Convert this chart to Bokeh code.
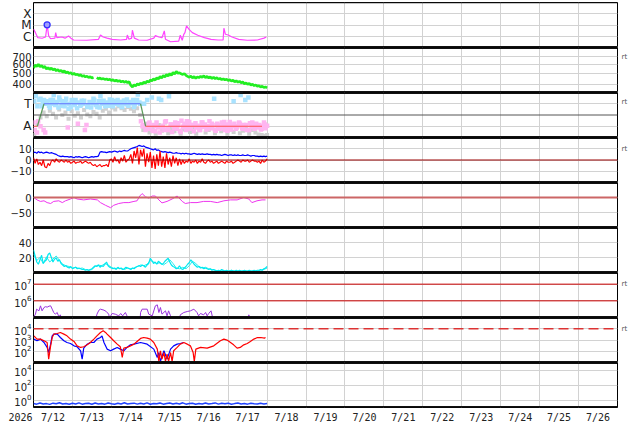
import numpy as np
from bokeh.plotting import figure
from bokeh.layouts import column
from bokeh.models import Range1d, FixedTicker, Span, LinearAxis, BasicTickFormatter
from bokeh.core.properties import value
from bokeh.embed import file_html
from bokeh.resources import INLINE

# ---------------- data ----------------
date_labels = ["7/12", "7/13", "7/14", "7/15", "7/16", "7/17", "7/18", "7/19",
               "7/20", "7/21", "7/22", "7/23", "7/24", "7/25", "7/26"]
year_label = "2026"

# X-ray flux (exponent of W/m2), times in days from 7/12 00:00
xray_t = [0.0, 0.05, 0.11, 0.22, 0.31, 0.35, 0.39, 0.44, 0.55, 0.57, 0.6, 0.73, 0.81, 0.9, 0.96,
          1.03, 1.37, 1.67, 1.72, 1.79, 1.89, 2.02, 2.24, 2.39, 2.41, 2.45, 2.52, 2.54, 2.59, 2.7,
          2.92, 3.09, 3.13, 3.22, 3.3, 3.36, 3.39, 3.52, 3.73, 3.77, 3.82, 3.86, 3.89, 3.93, 3.99,
          4.08, 4.22, 4.39, 4.56, 4.74, 4.87, 4.89, 4.93, 5.0, 5.1, 5.27, 5.49, 5.75, 5.92, 5.98]
xray_exp = [-5.33, -5.63, -6.06, -6.11, -6.0, -4.96, -5.91, -6.15, -6.1, -5.63, -6.06, -6.0, -6.1, -5.92, -6.1,
            -6.26, -6.28, -6.2, -5.83, -6.0, -6.1, -6.2, -6.26, -6.2, -5.83, -6.2, -6.1, -5.42, -6.1, -6.26,
            -6.28, -6.1, -5.88, -6.0, -6.06, -5.48, -6.2, -6.41, -6.35, -5.85, -6.28, -5.77, -5.63, -5.04, -5.33,
            -5.63, -5.85, -6.06, -6.2, -6.26, -6.26, -5.25, -5.77, -5.83, -6.0, -6.2, -6.28, -6.26, -6.1, -6.0]
flare_t = [0.35]
flare_flux = [1.1e-5]
xray_ticks = [1e-6, 1e-5, 1e-4]
xray_tick_labels = ["C", "M", "X"]

# Solar wind speed (km/s), hourly
speed = [555, 590, 575, 600, 570, 585, 560, 575, 545, 560, 540, 555, 535, 548, 525, 540, 520, 532, 512, 525, 505, 515, 498, 508,
         490, 500, 485, 492, 478, 486, 470, 478, 465, 472, 460, 466, 455, 462, np.nan, 458, 448, 455, 445, 450, 442, 447, 438, 444,
         432, 440, 428, 436, 425, 432, 420, 428, 418, 425, 415, 422, 392, 380, 398, 388, 405, 395, 412, 402, 420, 410, 428, 418,
         438, 428, 448, 436, 458, 446, 468, 455, 478, 465, 488, 472, 498, 480, 510, 492, 520, 500, 505, 495, 488, 498, 480, 470,
         462, 472, 455, 468, 452, 465, 458, 470, 462, 475, 458, 470, 455, 466, 450, 462, 448, 458, 445, 452, 440, 448, 438, 444,
         432, 440, 428, 436, 422, 430, 418, 426, 412, 420, 405, 413, 400, 408, 395, 402, 390, 396, 385, 390, 380, 385, 376, 381,
         374]
speed_ticks = [400, 500, 600, 700]

# IMF phi angle (deg): sector points
phi_t = [0.00, 0.03, 0.06, 0.09, 0.12, 0.15, 0.18, 0.21, 0.24, 0.27, 0.30, 0.33, 0.36, 0.40, 0.44, 0.48, 0.52, 0.56,
         0.60, 0.64, 0.68, 0.72, 0.76, 0.80, 0.84, 0.88, 0.92, 0.96, 1.00, 1.04, 1.08, 1.12, 1.16, 1.20, 1.24, 1.28,
         1.32, 1.36, 1.40, 1.44, 1.48, 1.52, 1.56, 1.60, 1.64, 1.68, 1.72, 1.76, 1.80, 1.84, 1.88, 1.92, 1.96, 2.00,
         2.04, 2.08, 2.12, 2.16, 2.20, 2.24, 2.28, 2.32, 2.36, 2.40, 2.44, 2.48, 2.52, 2.56, 2.60, 2.64, 2.68, 2.72,
         2.76, 2.80, 2.84, 2.88, 2.92, 2.96, 3.00, 3.04, 3.08, 3.12, 3.16, 3.20, 3.24, 3.28, 3.32, 3.36, 3.40, 3.44,
         3.48, 3.52, 3.56, 3.60, 3.64, 3.68, 3.72, 3.76, 3.80, 3.84, 3.88, 3.92, 3.96, 4.00, 4.04, 4.08, 4.12, 4.16,
         4.20, 4.24, 4.28, 4.32, 4.36, 4.40, 4.44, 4.48, 4.52, 4.56, 4.60, 4.64, 4.68, 4.72, 4.76, 4.80, 4.84, 4.88,
         4.92, 4.96, 5.00, 5.04, 5.08, 5.12, 5.16, 5.20, 5.24, 5.28, 5.32, 5.36, 5.40, 5.44, 5.48, 5.52, 5.56, 5.60,
         5.64, 5.68, 5.72, 5.76, 5.80, 5.84, 5.88, 5.92, 5.96, 6.00]
phi_v = [120, 60, 330, 40, 130, 300, 90, 250, 280, 300, 40, 270, 290, 255, 300, 270, 340, 260,
         285, 240, 300, 265, 290, 250, 310, 80, 270, 245, 290, 260, 300, 235, 280, 255, 295, 270,
         60, 100, 250, 285, 240, 275, 300, 260, 245, 290, 330, 270, 295, 250, 280, 265, 305, 275,
         250, 290, 270, 300, 260, 285, 245, 295, 270, 305, 255, 285, 275, 300, 265, 290, 345, 280,
         130, 90, 270, 60, 300, 110, 70, 320, 100, 50, 120, 80, 40, 300, 95, 60, 130, 75,
         330, 105, 45, 90, 120, 70, 100, 55, 135, 85, 110, 60, 95, 125, 70, 100, 50, 115,
         80, 95, 60, 120, 85, 105, 65, 90, 130, 75, 100, 310, 55, 110, 85, 70, 120, 95,
         60, 105, 80, 125, 65, 95, 110, 70, 90, 120, 340, 75, 100, 300, 60, 320, 115, 85,
         95, 70, 110, 80, 100, 65, 90, 120, 75, 95]
phi3_t = np.linspace(0.02, 5.94, 75)
phi3_v = [290, 250, 310, 60, 275, 240, 300, 265, 320, 255, 285, 230, 300, 270, 110, 260, 295, 245, 280, 310,
          265, 240, 290, 275, 255, 300, 270, 285, 250, 295, 265, 280, 245, 300, 270,
          100, 70, 120, 55, 90, 310, 80, 125, 60, 105, 75, 115, 45, 95, 130, 70, 100, 85, 60, 120,
          90, 75, 110, 65, 100, 85, 125, 55, 95, 290, 80, 110, 70, 100, 60, 120, 85, 95, 70, 105]
phi2_t = [0.02, 0.1, 0.18, 0.26, 0.34, 0.42, 0.5, 0.58, 0.66, 0.74, 0.82, 0.9, 0.98, 1.06, 1.14, 1.22, 1.3, 1.38,
          1.46, 1.54, 1.62, 1.7, 1.78, 1.86, 1.94, 2.02, 2.1, 2.18, 2.26, 2.34, 2.42, 2.5, 2.58, 2.66, 2.74, 2.82,
          2.9, 2.98, 3.06, 3.14, 3.22, 3.3, 3.38, 3.46, 3.54, 3.62, 3.7, 3.78, 3.86, 3.94, 4.02, 4.1, 4.18, 4.26,
          4.34, 4.42, 4.5, 4.58, 4.66, 4.74, 4.82, 4.9, 4.98, 5.06, 5.14, 5.22, 5.3, 5.38, 5.46, 5.54, 5.62, 5.7,
          5.78, 5.86, 5.94, 6.0]
phi2_v = [20, 100, 160, 200, 170, 215, 190, 160, 225, 180, 200, 150, 210, 175, 195, 160, 220, 185,
          170, 205, 190, 160, 215, 230, 200, 240, 225, 250, 235, 220, 245, 230, 210, 235, 180, 60,
          110, 40, 80, 30, 100, 55, 120, 35, 75, 50, 95, 30, 65, 110, 45, 85, 30, 70,
          100, 40, 60, 90, 35, 75, 50, 95, 30, 65, 45, 85, 35, 55, 80, 30, 60, 40,
          25, 20, 15, 20]
sector_t = [0.0, 0.1, 0.27, 2.75, 2.88, 5.87]
sector_v = [90, 90, 270, 270, 90, 90]
sector_colors = ["#ff5050", "#5a9a5a", "#6070ff", "#5a9a5a", "#ff5050"]
phi_ticks = [90, 270]
phi_tick_labels = ["A", "T"]

# IMF Bt and Bz (nT), hourly
bt = [6.5, 7, 6, 7.5, 6.5, 7, 6, 6.5, 7, 6.5, 6, 6.5, 6, 5.5,
      5, 4, 3.5, 3, 3.5, 3, 3,
      3, 2.5, 3, 2.5, 2, 3, 2.5, 3, 2.5, 2, 2.5, 3, 2.5, 2, 2.5, 3, 2.5, 3, 3, 3.5,
      7, 7.5, 7, 7, 6.5, 7, 7.5, 7, 7.5, 8, 7.5, 7, 8, 7.5, 8, 8.5, 8, 8, 9,
      10, 10.5, 11, 11.5, 12, 13, 12.5, 12, 12.5, 11.5, 11, 10.5,
      10, 9.5, 9, 10, 8.5, 9, 8, 7.5, 7, 7.5, 7, 6.5, 7, 6.5, 6,
      6, 6.5, 6, 6, 5.5, 6, 5.5, 6, 5.5, 5.5, 5, 5.5, 6, 5.5, 5, 5.5, 5, 5.5, 5, 5, 5.5, 5, 5, 4.5, 5,
      4.5, 5, 4.5, 4.5, 4, 4.5, 5, 4.5, 4, 4.5, 4.5, 4, 4.5, 4, 4.5, 4, 4, 4.5, 4, 4, 4.5, 4, 3.5, 4, 4, 3.5,
      3.5, 3, 3.5, 3, 3.5, 3, 3.5]
bz = [2, -3, 1, -4, -2, -5, 0, -6,
      -7, -3, -5, -1,
      0, -2, 1, -1, -2, 0, -1, -2, 0,
      -2, -1, -3, -2, -1, -3, -2, -2, -1, -3, -2, -1, -2, -3, -2,
      -4, -5, -4, -6, -5, -4, -6, -5, -5, -4, -6,
      0, 1, -2, 3, -1, 0, -3, 2, -1, 4, -2, 0, 1,
      5, -3, 8, 2, 11, -4, 9, 3, 10, -6, 6, -2,
      7, -7, 4, -8, 5, -5, 8, -6, 3, -7, 6, -4, 2, -6, 4,
      -3, 2, -5, 1, -4, 0, -3, -1,
      -2, 1, -3, -1, -2, 0, -3, -1, -2, 1, -2, -3, -1, 0, -2, -1, -3,
      -2, -1, -3, -2, -1, -2, -3, -1, -2, -2, -1, -3, -2,
      -1, 0, -1, -2, 0, -1, -1, 0, -2, -1, 0, -1, -1,
      -2, -1, -3, 0, -2, -1, 1]
b_ticks = [-10, 0, 10]

# Dst-like index (nT)
dst_t = [0.01, 0.09, 0.18, 0.27, 0.35, 0.44, 0.52, 0.65, 0.74, 0.82, 0.95, 1.04, 1.12, 1.29, 1.46,
         1.64, 1.72, 1.85, 1.98, 2.06, 2.19, 2.32, 2.45, 2.58, 2.66, 2.73, 2.79, 2.88, 2.96, 3.05,
         3.13, 3.22, 3.3, 3.43, 3.56, 3.69, 3.82, 3.9, 4.03, 4.2, 4.37, 4.54, 4.72, 4.89, 5.06,
         5.23, 5.4, 5.53, 5.61, 5.74, 5.87, 5.96]
dst_v = [0, -8, -13, -11, -17, -20, -13, -11, -17, -11, -5, 0, -5, -8, -5,
         -8, -17, -26, -34, -26, -20, -17, -17, -13, -11, 5, 13, 2, -2, 5,
         5, -8, -18, -13, -5, 5, -13, -20, -17, -17, -13, -13, -17, -11, -8,
         -8, 0, -5, -17, -11, -8, -8]
dst_ticks = [-50, 0]

# Proton density (/cc): two instruments
dens_a = [30, 22, 14, 11, 17, 23, 12, 15, 17, 24, 26, 20, 14, 18, 19, 15, 17, 12, 10, 8, 9,
          7, 6, 8, 5, 6, 7, 5, 6, 5, 4, 4, 3, 4, 3, 4, 5,
          7, 9, 8, 10, 7, 9, 8, 11, 14, 9, 7, 6,
          5, 6, 4, 7, 5, 6, 4, 5, 7, 6, 5, 4, 6, 5, 7, 8,
          9, 8, 10, 9, 7, 10, 12,
          19, 16, 12, 14, 11, 15, 13, 11, 12, 15, 17, 19, 14, 10, 8,
          7, 5, 6, 9, 5, 4, 6, 8, 11, 13,
          17, 14, 11, 9, 7, 8, 6, 7, 5, 6, 5, 4, 5, 3,
          4, 3, 2, 3, 2, 4, 3, 2, 3, 2, 2, 3, 2, 2, 3, 2, 3, 2, 2, 3, 2, 2, 3, 2, 2, 3, 2, 3, 3,
          4, 3, 5, 6, 8]
dens_b = [25, 16, 20, 12, 21, 14, 18, 22, 16, 11, 9,
          8, 6, 7, 5, 6, 4, 3, 4,
          8, 10, 9, 12, 10, 7,
          5, 6, 5, 4, 6, 5, 6, 8,
          10, 9, 11,
          16, 14, 12, 13, 10, 13, 17, 12,
          6, 5, 7, 5, 9,
          15, 12, 8, 6, 7, 5, 4,
          3, 2, 3, 2, 2, 3, 2, 1.5, 2, 2.5, 2, 2, 2.5, 2,
          3, 4, 6]
dens_ticks = [20, 40]

# Proton flux (exponent), gaps as NaN
proton_t = [0.0, 0.01, 0.05, 0.08, 0.11, 0.14, 0.18, 0.22, 0.27, 0.31, 0.35, 0.40, 0.44, 0.48, 0.52, 0.56, 0.61, 0.65, 0.69, 0.72, 0.73,
            1.60, 1.63, 1.68, 1.72, 1.81, 1.87, 1.93, 1.96, 1.97,
            1.98, 2.02, 2.10, 2.19, 2.24, 2.29, 2.36, 2.40, 2.42, 2.43,
            2.74, 2.75, 2.79, 2.92, 2.96, 3.05, 3.13, 3.18, 3.22, 3.26, 3.30, 3.39, 3.43, 3.47, 3.52, 3.54, 3.55,
            3.75, 3.77, 3.86, 3.95, 4.03, 4.12, 4.20, 4.24, 4.29, 4.37, 4.42, 4.46, 4.50, 4.56, 4.60, 4.62, 4.63,
            5.51, 5.53, 5.55, 5.57]
proton_exp = [4.9, 5.04, 5.2, 5.5, 5.45, 5.4, 5.7, 5.4, 5.6, 5.65, 5.62, 5.68, 5.7, 5.5, 5.3, 5.2, 5.3, 5.04, 5.16, 4.9, np.nan,
              4.9, 5.2, 5.44, 5.5, 5.44, 5.36, 5.2, 4.9, np.nan,
              5.1, 5.24, 5.2, 5.1, 5.24, 5.1, 5.3, 5.1, 4.9, np.nan,
              4.9, 5.3, 5.5, 5.5, 5.2, 5.1, 5.7, 5.76, 5.3, 5.6, 5.2, 5.4, 5.1, 5.4, 5.1, 4.9, np.nan,
              4.9, 5.16, 5.3, 5.36, 5.4, 5.5, 5.3, 5.1, 5.24, 5.16, 5.3, 5.1, 5.24, 5.4, 5.0, 4.9, np.nan,
              4.9, 5.16, 5.04, 4.9]
proton_ticks = [1e6, 1e7]

# Electron flux (exponent): two instruments
elec_red_t = [0.01, 0.09, 0.18, 0.27, 0.35, 0.39, 0.44, 0.48, 0.52, 0.61, 0.69, 0.78, 0.86, 0.95, 1.04, 1.12, 1.21,
              1.29, 1.38, 1.46, 1.55, 1.63, 1.72, 1.79, 1.85, 1.89, 1.98, 2.06, 2.15, 2.23, 2.28, 2.32, 2.4, 2.49,
              2.58, 2.66, 2.75, 2.83, 2.92, 3.0, 3.09, 3.18, 3.22, 3.26, 3.3, 3.35, 3.39, 3.43, 3.47, 3.52, 3.56,
              3.6, 3.69, 3.77, 3.86, 3.95, 4.03, 4.1, 4.13, 4.17, 4.29, 4.46, 4.63, 4.8, 4.89, 4.97, 5.06, 5.14,
              5.23, 5.31, 5.4, 5.49, 5.57, 5.66, 5.75, 5.84, 5.93, 5.96]
elec_red_exp = [3.37, 3.08, 3.08, 2.93, 2.78, 1.3, 2.48, 3.22, 3.52, 3.58, 3.67, 3.52, 3.37, 3.08, 2.87, 2.48, 2.34,
                2.4, 2.57, 2.78, 3.08, 3.37, 3.67, 3.82, 3.67, 3.52, 3.22, 2.93, 2.63, 2.4, 1.45, 2.28, 2.34, 2.48,
                2.63, 2.87, 3.14, 3.22, 3.17, 3.08, 2.78, 2.19, 1.1, 2.04, 1.3, 1.89, 1.1, 1.74, 1.1, 1.89, 1.1,
                2.04, 2.34, 2.63, 2.78, 2.63, 2.48, 1.89, 1.1, 2.19, 2.34, 2.28, 2.48, 2.93, 3.08, 2.99, 2.78, 2.57,
                2.28, 2.34, 2.57, 2.69, 2.87, 3.08, 3.22, 3.22, 3.17, 3.22]
elec_blue_t = [0.01, 0.09, 0.18, 0.27, 0.35, 0.39, 0.44, 0.48, 0.52, 0.61, 0.69, 0.78, 0.86, 0.95, 1.04, 1.12, 1.21,
               1.25, 1.29, 1.38, 1.46, 1.55, 1.63, 1.72, 1.76, 1.81, 1.89, 1.98, 2.06, 2.15, 2.23, 2.32, 2.4, 2.49,
               2.58, 2.75, 2.92, 3.09, 3.18, 3.22, 3.26, 3.35, 3.43, 3.52, 3.6, 3.69, 3.77, 3.86]
elec_blue_exp = [3.08, 2.93, 3.08, 2.78, 2.34, 1.89, 2.63, 3.37, 3.52, 3.52, 3.22, 2.93, 2.78, 2.69, 2.48, 2.4, 2.04,
                 1.3, 2.28, 2.63, 2.78, 2.78, 3.08, 3.22, 3.37, 2.78, 2.19, 2.04, 2.19, 2.34, 2.19, 2.04, 2.34, 2.57,
                 2.63, 2.78, 2.63, 2.19, 1.45, 1.89, 1.1, 2.04, 1.3, 2.19, 2.48, 2.63, 2.69, 2.78]
elec_ticks = [1e2, 1e3, 1e4]

# Bottom panel (2-hourly)
low_flux = [0.35, 0.28, 0.4, 0.3, 0.33, 0.26, 0.38, 0.31, 0.42, 0.29, 0.34, 0.27, 0.37, 0.3, 0.41, 0.28, 0.33, 0.36,
            0.27, 0.39, 0.3, 0.35, 0.28, 0.4, 0.32, 0.27, 0.37, 0.3, 0.43, 0.29, 0.34, 0.38, 0.28, 0.36, 0.3, 0.41,
            0.27, 0.35, 0.31, 0.39, 0.28, 0.34, 0.4, 0.29, 0.36, 0.3, 0.42, 0.28, 0.33, 0.37, 0.27, 0.35, 0.3, 0.39,
            0.29, 0.34, 0.41, 0.28, 0.36, 0.31, 0.38, 0.27, 0.33, 0.4, 0.3, 0.35, 0.28, 0.37, 0.32, 0.29, 0.36, 0.3, 0.34]
low_ticks = [1e0, 1e2, 1e4]

# ---------------- plotting ----------------
GRID = "#d2d2d2"
FONT = "DejaVu Sans"
MONO = "DejaVu Sans Mono"
W = 634
BL, BR = 33, 17
DAYS = 15
H = 45
xr = Range1d(0, DAYS)


def make_fig(yr, ytype, height, top=0, bottom=0, top_w=3):
    p = figure(width=W, height=height, x_range=xr, y_range=yr, y_axis_type=ytype,
               x_axis_location=None, title=None,
               output_backend="svg", toolbar_location=None,
               min_border_left=BL, min_border_right=BR, min_border_top=top, min_border_bottom=bottom,
               outline_line_color="black", outline_line_width=1,
               background_fill_color="white", border_fill_color="white")
    p.xgrid.ticker = FixedTicker(ticks=list(range(1, DAYS)))
    p.grid.grid_line_color = GRID
    p.grid.grid_line_width = 1
    ax = p.yaxis[0]
    ax.axis_line_color = None
    ax.major_tick_line_color = None
    ax.minor_tick_line_color = None
    ax.major_tick_out = 0
    ax.major_label_standoff = 2
    ax.major_label_text_font = FONT
    ax.major_label_text_font_size = "10px"
    ax.major_label_text_color = "#222222"
    p.add_layout(Span(location=yr.end, dimension="width", line_color="#111111", line_width=top_w))
    p.add_layout(Span(location=yr.start, dimension="width", line_color="#111111", line_width=3))
    return p


def set_yticks(p, ticks, labels=None):
    p.yaxis[0].ticker = FixedTicker(ticks=ticks, minor_ticks=[])
    p.ygrid.ticker = FixedTicker(ticks=ticks, minor_ticks=[])
    if labels is not None:
        p.yaxis[0].major_label_overrides = {t: l for t, l in zip(ticks, labels)}


def rt_axis(p, yv):
    ax = LinearAxis(ticker=FixedTicker(ticks=[yv], minor_ticks=[]), major_label_overrides={yv: "rt"},
                    axis_line_color=None, major_tick_line_color=None, minor_tick_line_color=None,
                    major_tick_out=0, major_tick_in=0,
                    major_label_standoff=4, major_label_text_font=FONT, major_label_text_font_size="7px",
                    major_label_text_color="#555555")
    p.add_layout(ax, "right")


figs = []

# 1 X-ray
p1 = make_fig(Range1d(10 ** -6.9, 10 ** -3.05), "log", H + 2, top=2, top_w=1.5)
set_yticks(p1, xray_ticks, xray_tick_labels)
p1.yaxis[0].major_label_text_font_size = "12px"
p1.line(xray_t, [10 ** e for e in xray_exp], line_color="#ff44ff", line_width=1.2)
p1.scatter(flare_t, flare_flux, marker="circle", size=6, line_color="#3030ff", fill_color="#a0a0ff", line_width=1.3)
figs.append(p1)

# 2 speed
p2 = make_fig(Range1d(340, 840), "log", H)
set_yticks(p2, speed_ticks)
p2.yaxis[0].formatter = BasicTickFormatter()
p2.line(np.linspace(0, 6, len(speed)), speed, line_color="#22ee22", line_width=2.6)
rt_axis(p2, 700)
figs.append(p2)

# 3 sector
p3 = make_fig(Range1d(0, 360), "linear", H)
set_yticks(p3, phi_ticks, phi_tick_labels)
p3.yaxis[0].major_label_text_font_size = "12px"
p3.scatter(phi2_t, phi2_v, marker="square", size=4, fill_color="#d0d0d0", line_color=None)
phi_colors = ["#a8e2ff" if v >= 180 else "#ffb4f0" for v in phi_v]
phi3_colors = ["#a8e2ff" if v >= 180 else "#ffb4f0" for v in phi3_v]
p3.scatter(phi_t, phi_v, marker="square", size=4.5, fill_color=phi_colors, line_color=None)
p3.scatter(phi3_t, phi3_v, marker="square", size=4.5, fill_color=phi3_colors, line_color=None)
p3.add_layout(Span(location=180, dimension="width", line_color="#555555", line_width=1))
p3.segment(sector_t[:-1], sector_v[:-1], sector_t[1:], sector_v[1:], line_color=sector_colors, line_width=1.2)
rt_axis(p3, 285)
figs.append(p3)

# 4 IMF
p4 = make_fig(Range1d(-20, 20), "linear", H)
set_yticks(p4, b_ticks, ["\u221210", "0", "10"])
p4.add_layout(Span(location=0, dimension="width", line_color="#990000", line_width=1))
p4.line(np.linspace(0, 6, len(bt)), bt, line_color="#0000ff", line_width=1.2)
p4.line(np.linspace(0, 6, len(bz)), bz, line_color="#ff0000", line_width=1.2)
rt_axis(p4, 10)
figs.append(p4)

# 5 Dst
p5 = make_fig(Range1d(-100, 50), "linear", H)
set_yticks(p5, dst_ticks, ["\u221250", "0"])
p5.add_layout(Span(location=0, dimension="width", line_color="#cc6666", line_width=2))
p5.line(dst_t, dst_v, line_color="#ee33ee", line_width=1)
figs.append(p5)

# 6 density
p6 = make_fig(Range1d(0, 60), "linear", H)
set_yticks(p6, dens_ticks)
p6.line(np.linspace(0, 6, len(dens_b)), dens_b, line_color="#22eeee", line_width=1)
p6.line(np.linspace(0, 6, len(dens_a)), dens_a, line_color="#00e8f0", line_width=1.2)
figs.append(p6)

# 7 proton
p7 = make_fig(Range1d(1e5, 10 ** 7.7), "log", H)
set_yticks(p7, proton_ticks)
for lv in proton_ticks:
    p7.add_layout(Span(location=lv, dimension="width", line_color="#cc0000", line_width=1))
p7.line(proton_t, [10 ** e for e in proton_exp], line_color="#9933dd", line_width=1)
rt_axis(p7, 1e7)
figs.append(p7)

# 8 electron
p8 = make_fig(Range1d(1e1, 1e5), "log", H)
set_yticks(p8, elec_ticks)
p8.add_layout(Span(location=1e4, dimension="width", line_color="#dd3333", line_width=1.3, line_dash="10 5"))
p8.line(elec_blue_t, [10 ** e for e in elec_blue_exp], line_color="#0000ff", line_width=1.2)
p8.line(elec_red_t, [10 ** e for e in elec_red_exp], line_color="#ff0000", line_width=1.2)
rt_axis(p8, 1e4)
figs.append(p8)

# 9 bottom panel
p9 = make_fig(Range1d(1e-1, 1e5), "log", H + 2, bottom=2)
set_yticks(p9, low_ticks)
p9.line(np.linspace(0, 6, len(low_flux)), low_flux, line_color="#2244ff", line_width=1.5)
figs.append(p9)

# date strip: year on its own y axis, day labels centred in each day
pa = figure(width=W, height=15, x_range=xr, y_range=Range1d(0, 1),
            x_axis_location=None, y_axis_location="left", title=None,
            output_backend="svg", toolbar_location=None,
            min_border_left=BL, min_border_right=BR, min_border_top=0, min_border_bottom=0,
            outline_line_color=None, background_fill_color="white", border_fill_color="white")
pa.grid.visible = False
ya = pa.yaxis[0]
ya.ticker = FixedTicker(ticks=[0.5], minor_ticks=[])
ya.major_label_overrides = {0.5: year_label}
ya.axis_line_color = None
ya.major_tick_line_color = None
ya.minor_tick_line_color = None
ya.major_tick_out = 0
ya.major_label_standoff = 1
ya.major_label_text_font = MONO
ya.major_label_text_font_size = "10px"
ya.major_label_text_color = "#222222"
day_centres = [k + 0.5 for k in range(len(date_labels))]
pa.text(x=day_centres, y=[0.5] * len(date_labels), text=date_labels, text_align="center",
        text_baseline="middle", text_font=value(MONO), text_font_size="10px", text_color="#222222")
figs.append(pa)

layout = column(*figs, spacing=0)
open("out.html", "w").write(file_html(layout, INLINE))
